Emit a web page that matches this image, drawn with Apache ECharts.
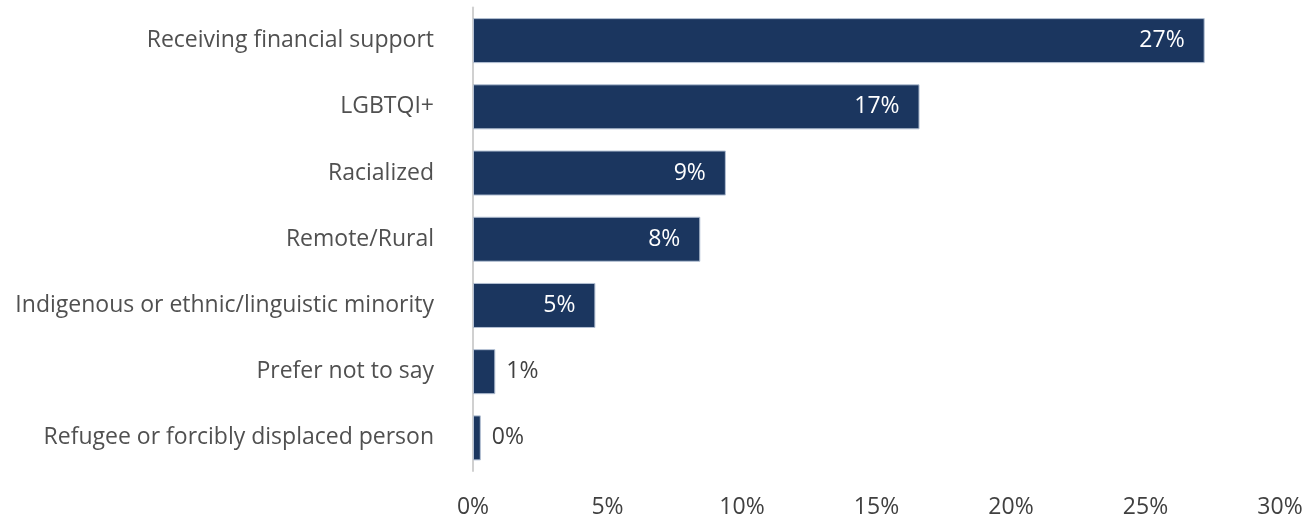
<!DOCTYPE html>
<html>
<head>
<meta charset="utf-8">
<script src="https://cdn.jsdelivr.net/npm/echarts@6/dist/echarts.min.js"></script>
<style>
  html, body { margin: 0; padding: 0; background: #ffffff; }
  #chart { width: 1315px; height: 523px; }
</style>
</head>
<body>
<div id="chart"></div>
<script>
// Share of respondents by group (percent)
const categories = [
  'Receiving financial support',
  'LGBTQI+',
  'Racialized',
  'Remote/Rural',
  'Indigenous or ethnic/linguistic minority',
  'Prefer not to say',
  'Refugee or forcibly displaced person'
];
const values = [27.2, 16.6, 9.4, 8.45, 4.55, 0.83, 0.29];
const xTicks = [0, 5, 10, 15, 20, 25, 30];

const FONT = '"Open Sans", "Noto Sans", sans-serif';
const BAR = '#1b365f';

const chart = echarts.init(document.getElementById('chart'), null, { renderer: 'canvas' });

// Short bars carry their label outside in grey; longer bars carry it inside in white.
const barData = values.map(v => {
  const inside = v >= 2;
  return {
    value: v,
    label: inside
      ? { position: 'insideRight', distance: 20, color: '#ffffff' }
      : { position: 'right', distance: 11, color: '#404040' }
  };
});

chart.setOption({
  animation: false,
  backgroundColor: '#ffffff',
  grid: { left: 473, right: 35, top: 7.5, bottom: 52, containLabel: false },
  xAxis: {
    type: 'value',
    min: xTicks[0],
    max: xTicks[xTicks.length - 1],
    interval: xTicks[1] - xTicks[0],
    axisLine: { show: false },
    axisTick: { show: false },
    splitLine: { show: false },
    axisLabel: {
      formatter: v => v + '%',
      color: '#404040',
      fontFamily: FONT,
      fontSize: 23,
      margin: 25
    }
  },
  yAxis: {
    type: 'category',
    data: categories,
    inverse: true,
    axisLine: { show: true, lineStyle: { color: '#d0d0d0', width: 2 } },
    axisTick: { show: false },
    axisLabel: {
      color: '#505050',
      fontFamily: FONT,
      fontSize: 23,
      margin: 39
    }
  },
  series: [{
    type: 'bar',
    data: barData,
    barCategoryGap: '32%',
    itemStyle: { color: BAR, borderColor: '#b3c0d3', borderWidth: 1 },
    label: {
      show: true,
      fontFamily: FONT,
      fontSize: 23,
      formatter: p => Math.round(p.value) + '%'
    }
  }]
});
</script>
</body>
</html>
